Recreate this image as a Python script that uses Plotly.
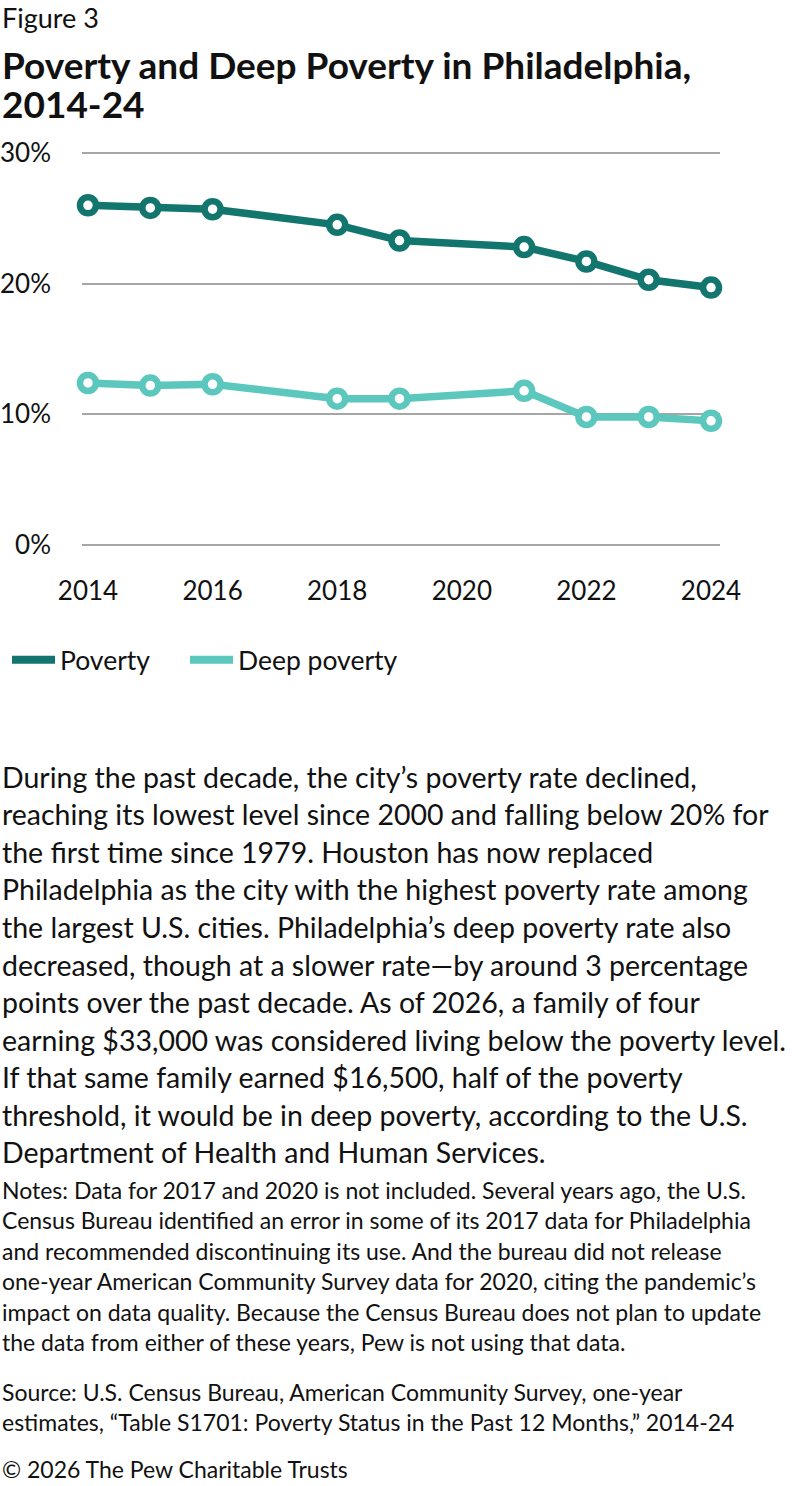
import plotly.graph_objects as go

years = [2014, 2015, 2016, 2018, 2019, 2021, 2022, 2023, 2024]
poverty = [26.0, 25.8, 25.7, 24.5, 23.3, 22.8, 21.7, 20.3, 19.7]
deep_poverty = [12.4, 12.2, 12.3, 11.2, 11.2, 11.8, 9.8, 9.8, 9.5]
series_names = ["Poverty", "Deep poverty"]
x_ticks = [2014, 2016, 2018, 2020, 2022, 2024]
y_ticks = [0, 10, 20, 30]
y_tick_labels = ["0%", "10%", "20%", "30%"]

fig_label = "Figure 3"
title_lines = ["Poverty and Deep Poverty in Philadelphia,", "2014-24"]
body_lines = [
    "During the past decade, the city\u2019s poverty rate declined,",
    "reaching its lowest level since 2000 and falling below 20% for",
    "the first time since 1979. Houston has now replaced",
    "Philadelphia as the city with the highest poverty rate among",
    "the largest U.S. cities. Philadelphia\u2019s deep poverty rate also",
    "decreased, though at a slower rate\u2014by around 3 percentage",
    "points over the past decade. As of 2026, a family of four",
    "earning $33,000 was considered living below the poverty level.",
    "If that same family earned $16,500, half of the poverty",
    "threshold, it would be in deep poverty, according to the U.S.",
    "Department of Health and Human Services.",
]
notes_lines = [
    "Notes: Data for 2017 and 2020 is not included. Several years ago, the U.S.",
    "Census Bureau identified an error in some of its 2017 data for Philadelphia",
    "and recommended discontinuing its use. And the bureau did not release",
    "one-year American Community Survey data for 2020, citing the pandemic\u2019s",
    "impact on data quality. Because the Census Bureau does not plan to update",
    "the data from either of these years, Pew is not using that data.",
]
source_lines = [
    "Source: U.S. Census Bureau, American Community Survey, one-year",
    "estimates, \u201cTable S1701: Poverty Status in the Past 12 Months,\u201d 2014-24",
]
copyright_line = "\u00a9 2026 The Pew Charitable Trusts"

W, H = 792, 1486
DARK = "#12766F"
LIGHT = "#5CC7BC"
TEXT = "#111111"
FONT = "Lato"

def px(x):
    return x / W

def py(y):
    return 1 - y / H

fig = go.Figure()
for name, vals, col in [(series_names[0], poverty, DARK), (series_names[1], deep_poverty, LIGHT)]:
    fig.add_trace(go.Scatter(
        x=years, y=vals, mode="lines+markers", name=name, showlegend=False,
        line=dict(color=col, width=7.5),
        marker=dict(size=16, color="white", line=dict(color=col, width=6.5)),
        cliponaxis=False,
    ))
for name, col, lg in [(series_names[0], DARK, "legend"), (series_names[1], LIGHT, "legend2")]:
    fig.add_trace(go.Scatter(
        x=[None], y=[None], mode="lines", name=name, legend=lg,
        line=dict(color=col, width=8),
    ))

annotations = []
def add_text(text, x, y, size, bold=False, height=None):
    a = dict(
        text=f"<b>{text}</b>" if bold else text,
        x=px(x), y=py(y), xref="paper", yref="paper",
        xanchor="left", yanchor="middle", showarrow=False,
        font=dict(family=FONT, size=size, color=TEXT),
    )
    if height is not None:
        a["height"] = height
    annotations.append(a)

add_text(fig_label, 0, 18, 27)
for i, t in enumerate(title_lines):
    add_text(t, 0, 64 + i * 40, 37, bold=True, height=39)
for i, t in enumerate(body_lines):
    add_text(t, 0, 777 + i * 37.5, 28.5)
for i, t in enumerate(notes_lines):
    add_text(t, 0, 1190 + i * 30.4, 23)
for i, t in enumerate(source_lines):
    add_text(t, 0, 1392 + i * 30.4, 23)
add_text(copyright_line, 0, 1469, 23)

legend_common = dict(
    orientation="h", xanchor="left", yanchor="middle",
    font=dict(family=FONT, size=26.5, color=TEXT),
    itemwidth=43, bgcolor="rgba(0,0,0,0)",
)

pxu = (545 - 153) / 30.0
pad = 0.15
fig.update_layout(
    width=W, height=H,
    margin=dict(l=0, r=0, t=0, b=0, autoexpand=False),
    paper_bgcolor="white", plot_bgcolor="white",
    font=dict(family=FONT, size=26, color=TEXT),
    showlegend=True,
    legend=dict(x=px(7), y=py(660), **legend_common),
    legend2=dict(x=px(185), y=py(660), **legend_common),
    annotations=annotations,
    xaxis=dict(
        domain=[px(82), px(720)], range=[2013.904, 2024.144],
        tickvals=x_ticks, ticktext=[str(v) for v in x_ticks],
        showgrid=False, zeroline=False, showline=False, ticks="",
        ticklabelstandoff=26, automargin=False,
        tickfont=dict(family=FONT, size=26, color=TEXT),
    ),
    yaxis=dict(
        domain=[py(545 + pad * pxu), py(153 - pad * pxu)], range=[-pad, 30 + pad],
        tickvals=y_ticks, ticktext=y_tick_labels,
        showgrid=True, gridcolor="#A6A6A6", gridwidth=2,
        zeroline=False, showline=False, ticks="",
        ticklabelstandoff=30, automargin=False,
        tickfont=dict(family=FONT, size=26, color=TEXT),
    ),
)

fig.write_html(
    "out.html",
    config={"displayModeBar": False},
    post_script="document.body.style.margin='0';",
)
